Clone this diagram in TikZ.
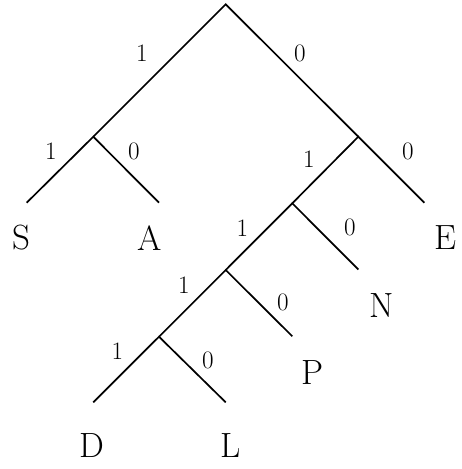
\documentclass[tikz,border=0pt]{standalone}
\begin{document}
\begin{tikzpicture}[x=1pt,y=-1pt,
  edge/.style={line width=1.7pt},
  leaftext/.style={inner sep=0pt,font=\huge,scale=1.69},
  bittext/.style={inner sep=0pt,font=\huge,scale=1.21}]
\useasboundingbox (0,0) rectangle (462,469);
% tree points
\coordinate (r) at (225.7,4.3);
\coordinate (l1) at (93.3,136.7);
\coordinate (r1) at (358.3,136.7);
\coordinate (s) at (26.7,202.7);
\coordinate (a) at (159,202.7);
\coordinate (e) at (424.3,202.7);
\coordinate (x) at (292.3,203.3);
\coordinate (n) at (358.3,269.5);
\coordinate (y) at (225.7,270);
\coordinate (p) at (292.3,336.3);
\coordinate (z) at (159,336.7);
\coordinate (d) at (93.3,402.3);
\coordinate (l) at (225.7,402.3);
% edges
\draw[edge] (l1) -- (r) -- (r1);
\draw[edge] (s) -- (l1) -- (a);
\draw[edge] (x) -- (r1) -- (e);
\draw[edge] (y) -- (x) -- (n);
\draw[edge] (z) -- (y) -- (p);
\draw[edge] (d) -- (z) -- (l);
% leaf letters
\node[leaftext] (S) at (21.7,238) {S};
\node[leaftext] (A) at (149.7,238) {A};
\node[leaftext] (E) at (446,238) {E};
\node[leaftext] (N) at (381.7,306) {N};
\node[leaftext] (P) at (312.5,372.5) {P};
\node[leaftext] (D) at (91.7,446) {D};
\node[leaftext] (L) at (230.5,446) {L};
% bit labels
\node[bittext] (b1) at (142,53) {1};
\node[bittext] (b2) at (300,53) {0};
\node[bittext] (b3) at (50.8,151.7) {1};
\node[bittext] (b4) at (134,151.7) {0};
\node[bittext] (b5) at (309,159) {1};
\node[bittext] (b6) at (408,151.7) {0};
\node[bittext] (b7) at (242.5,228.3) {1};
\node[bittext] (b8) at (350,227.5) {0};
\node[bittext] (b9) at (184,285) {1};
\node[bittext] (b10) at (283,302.5) {0};
\node[bittext] (b11) at (117.5,351) {1};
\node[bittext] (b12) at (208,360) {0};
\end{tikzpicture}
\end{document}
